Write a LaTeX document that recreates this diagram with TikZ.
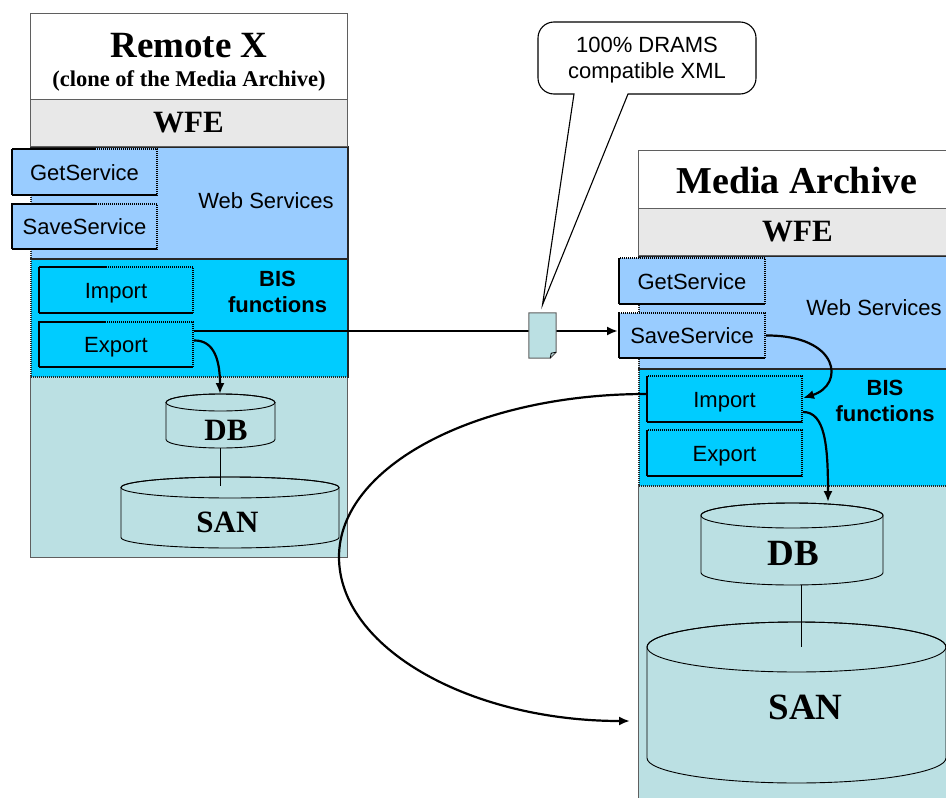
\documentclass[tikz,border=0pt]{standalone}
\usepackage{fontspec}
\setmainfont{Liberation Serif}
\setsansfont{Liberation Sans}
\usetikzlibrary{arrows.meta}
\definecolor{wsblue}{HTML}{99CCFF}
\definecolor{bisblue}{HTML}{00CCFF}
\definecolor{basetint}{HTML}{BBE0E3}
\definecolor{wfegray}{HTML}{E8E8E8}
\definecolor{framegray}{HTML}{5F5F5F}
\newcommand\sansbig{\sffamily\fontsize{22}{26}\selectfont}
% cylinder: centre x, top-ellipse y, bottom-ellipse y, x radius, y radius
\newcommand\drawcyl[5]{%
  \filldraw[cyl] (#1-#4,#2) -- (#1-#4,#3)
    arc[start angle=180,end angle=360,x radius=#4pt,y radius=#5pt]
    -- (#1+#4,#2)
    arc[start angle=0,end angle=180,x radius=#4pt,y radius=#5pt] -- cycle;
  \draw[cyl,fill=none] (#1,#2) ellipse[x radius=#4pt,y radius=#5pt];}
\begin{document}
\begin{tikzpicture}[x=1pt,y=-1pt,
  band/.style={anchor=north west, inner sep=0pt, draw=framegray, line width=1.3pt},
  dotband/.style={anchor=north west, inner sep=0pt, draw=black!85, line width=1.6pt, dash pattern=on 1.4pt off 0.6pt},
  svcbox/.style={draw=black, line width=2pt, dash pattern=on 1.5pt off 0.5pt, inner sep=0pt,
                 font=\sansbig, text height=16pt, text depth=0pt},
  sanstext/.style={font=\sansbig, inner sep=0pt},
  bistext/.style={font=\sansbig\bfseries, inner sep=0pt, align=center},
  flow/.style={line width=2.2pt, -{Latex[length=11pt,width=9pt]}},
  cyl/.style={draw=black, line width=0.9pt, fill=basetint},
  link/.style={draw=black, line width=0.9pt},
  bubble/.style={draw=black, line width=1.1pt, fill=white},
]
\useasboundingbox (0,0) rectangle (946,798);
\clip (0,0) rectangle (946,798);

% ---------------- Remote X column ----------------
\node[band, fill=basetint, minimum width=317pt, minimum height=181pt] (lbase) at (30,376) {};
\node[dotband, fill=wsblue, minimum width=317pt, minimum height=112pt] (lws) at (30,146) {};
\node[dotband, fill=bisblue, minimum width=317pt, minimum height=118pt] (lbis) at (30,258) {};
\node[band, fill=white, minimum width=317pt, minimum height=86pt] (lhead) at (30,13) {};
\node[band, fill=wfegray, minimum width=317pt, minimum height=47pt] (lwfe) at (30,99) {};

\node[anchor=base, inner sep=0pt, font=\bfseries\fontsize{37}{40}\selectfont] (ltitle) at (189,57) {Remote X};
\node[anchor=base, inner sep=0pt, font=\bfseries\fontsize{22.5}{24}\selectfont] (lsub) at (189,86) {(clone of the Media Archive)};
\node[anchor=base, inner sep=0pt, font=\bfseries\fontsize{31}{34}\selectfont] (lwfet) at (188.5,132) {WFE};

\node[svcbox, fill=wsblue, minimum width=145pt, minimum height=46pt] (lget) at (84.5,172) {GetService};
\node[svcbox, fill=wsblue, minimum width=145pt, minimum height=45pt] (lsave) at (84.5,226.5) {SaveService};
\node[sanstext] (lwst) at (266,200.5) {Web Services};

\node[svcbox, fill=bisblue, minimum width=154pt, minimum height=46pt] (limp) at (116,290) {Import};
\node[svcbox, fill=bisblue, minimum width=154pt, minimum height=45pt] (lexp) at (116,344.5) {Export};
\node[bistext] (lbist) at (277.5,292) {BIS\\functions};

\drawcyl{220.5}{402.5}{439.5}{54.5}{8.5}
\drawcyl{230}{487.5}{537.5}{109}{10.5}
\node[anchor=base, inner sep=0pt, font=\bfseries\fontsize{31}{34}\selectfont] (ldb) at (226,440) {DB};
\node[anchor=base, inner sep=0pt, font=\bfseries\fontsize{31}{34}\selectfont] (lsan) at (227.5,532) {SAN};
\coordinate (ldbtop) at (220,394);
\coordinate (ldbbot) at (220,448);
\coordinate (lsantop) at (220,486);
\draw[link] (ldbbot) -- (lsantop);

% ---------------- Media Archive column ----------------
\node[band, fill=basetint, minimum width=320pt, minimum height=330pt] (rbase) at (638,485) {};
\node[dotband, fill=wsblue, minimum width=320pt, minimum height=113pt] (rws) at (638,255) {};
\node[dotband, fill=bisblue, minimum width=320pt, minimum height=117pt] (rbis) at (638,368) {};
\node[band, fill=white, minimum width=320pt, minimum height=58pt] (rhead) at (638,150) {};
\node[band, fill=wfegray, minimum width=320pt, minimum height=47pt] (rwfe) at (638,208) {};

\node[anchor=base, inner sep=0pt, font=\bfseries\fontsize{38}{41}\selectfont] (rtitle) at (797,193) {Media Archive};
\node[anchor=base, inner sep=0pt, font=\bfseries\fontsize{31}{34}\selectfont] (rwfet) at (797.5,241) {WFE};

\node[svcbox, fill=wsblue, minimum width=146pt, minimum height=46pt] (rget) at (692,281) {GetService};
\node[svcbox, fill=wsblue, minimum width=146pt, minimum height=45pt] (rsave) at (692,335.5) {SaveService};
\node[sanstext] (rwst) at (874,307.5) {Web Services};

\node[svcbox, fill=bisblue, minimum width=155pt, minimum height=46pt] (rimp) at (724.5,399) {Import};
\node[svcbox, fill=bisblue, minimum width=155pt, minimum height=46pt] (rexp) at (724.5,453) {Export};
\node[bistext] (rbist) at (885,400.5) {BIS\\functions};

\drawcyl{792}{515.5}{572.5}{91}{12.5}
\drawcyl{796.5}{647}{758}{149.5}{25}
\node[anchor=base, inner sep=0pt, font=\bfseries\fontsize{37}{40}\selectfont] (rdb) at (793,565) {DB};
\node[anchor=base, inner sep=0pt, font=\bfseries\fontsize{37}{40}\selectfont] (rsan) at (805.5,719) {SAN};
\coordinate (rdbtop) at (828,502);
\coordinate (rdbbot) at (801,585);
\coordinate (rsantop) at (801,647);
\draw[link] (rdbbot) -- (rsantop);

% ---------------- XML transfer ----------------
\coordinate (xmlrow) at (0,331);
\draw[flow] (lexp.east |- xmlrow) -- (rsave.west |- xmlrow);

\node[inner sep=0pt, minimum width=27pt, minimum height=45pt] (xmldoc) at (542.5,335.5) {};
\filldraw[draw=framegray, line width=1pt, fill=basetint]
  (xmldoc.north west) -- (xmldoc.north east) -- ([yshift=6pt]xmldoc.south east)
  -- ([xshift=-6pt]xmldoc.south east) -- (xmldoc.south west) -- cycle;
\draw[line width=0.8pt] ([yshift=6pt]xmldoc.south east) -- ([xshift=-5pt,yshift=5pt]xmldoc.south east)
  -- ([xshift=-6pt]xmldoc.south east);

\coordinate (bubtip) at ([yshift=8pt]xmldoc.north);
\draw[bubble] (628,94) -- (740,94) arc[start angle=270,end angle=360,radius=16pt]
  -- (756,38) arc[start angle=0,end angle=90,radius=16pt]
  -- (554,22) arc[start angle=90,end angle=180,radius=16pt]
  -- (538,78) arc[start angle=180,end angle=270,radius=16pt]
  -- (574,94) -- (bubtip) -- cycle;
\node[sanstext, align=center] (bubtext) at (647,60) {100\% DRAMS\\compatible XML};

% ---------------- flows ----------------
\draw[flow] ([yshift=4pt]lexp.east) .. controls (215,340) and (220,362) .. (ldbtop);
\draw[flow] (rsave.east) .. controls (840,335) and (845,385) .. ([yshift=1pt]rimp.east);
\draw[flow] ([yshift=-13pt]rimp.east) .. controls (825,412) and (828,445) .. (rdbtop);
\coordinate (sanin) at (630,721);
\draw[flow] ([yshift=5pt]rimp.west) .. controls (477,394) and (339,466) .. (339,557)
  .. controls (339,648) and (470,721) .. (sanin);
\end{tikzpicture}
\end{document}
